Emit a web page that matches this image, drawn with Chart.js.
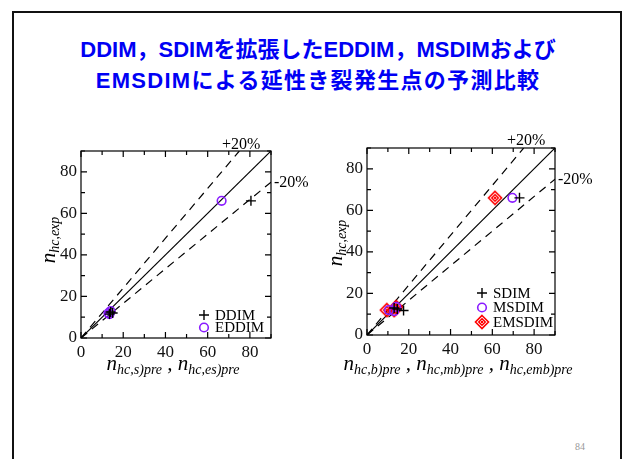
<!DOCTYPE html>
<html>
<head>
<meta charset="utf-8">
<script src="https://cdn.jsdelivr.net/npm/chart.js@4/dist/chart.umd.min.js"></script>
<style>
  html, body { margin: 0; padding: 0; background: #fff; }
  #page { position: relative; width: 622px; height: 459px; overflow: hidden; background: #fff; }
  #frame { position: absolute; left: 12px; top: 11px; width: 606px; height: 470px;
           border: 2px solid #111; border-bottom: none; }
  .title { position: absolute; left: 0; width: 636px; text-align: center; color: #0000f4;
           font-family: "Liberation Sans", "Noto Sans CJK JP", sans-serif; font-weight: bold; font-size: 22px;
           line-height: 30px; white-space: nowrap; }
  #t1 { top: 35px; }
  #t2 { top: 66px; letter-spacing: 1.3px; }
  #pageno { position: absolute; left: 575px; top: 441px; font-family: "Liberation Serif", serif;
            font-size: 10px; color: #999; }
  canvas { position: absolute; left: 0; top: 0; }
</style>
</head>
<body>
<div id="page">
  <div id="frame"></div>
  <div class="title" id="t1">DDIM，SDIMを拡張したEDDIM，MSDIMおよび</div>
  <div class="title" id="t2">EMSDIMによる延性き裂発生点の予測比較</div>
  <div id="pageno">84</div>
  <canvas id="left" width="622" height="459"></canvas>
  <canvas id="right" width="622" height="459"></canvas>
</div>
<script>
// ---- data ----
const axisMin = 0;
const axisMax = 90;
const tickStep = 10;
const labelStep = 20;

// reference lines: 1:1, +20%, -20%
const diagX = [0, 90];
const diagY = [0, 90];
const plusX = [0, 75];
const plusY = [0, 90];
const minusX = [0, 90];
const minusY = [0, 75];

// left panel
const ddimX = [80.5, 15, 14, 13.5];
const ddimY = [66, 12, 12.5, 11.5];
const eddimX = [66.6, 13, 13.5, 14];
const eddimY = [66, 12, 11.5, 13];

// right panel
const sdimX = [73, 17.5, 13, 14.5];
const sdimY = [66, 11.8, 13, 12.5];
const msdimX = [69.6, 10.5, 13, 14];
const msdimY = [66, 12, 11.5, 13.5];
const emsdimX = [61.3, 9.5, 13, 14];
const emsdimY = [66, 12, 12, 13.5];

const pts = (xs, ys) => xs.map((x, i) => ({ x: x, y: ys[i] }));

// double diamond marker
function doubleDiamond() {
  const c = document.createElement('canvas');
  c.width = 16; c.height = 16;
  const g = c.getContext('2d');
  g.strokeStyle = '#ff0000';
  g.lineWidth = 1.6;
  [6.5, 3.2].forEach(r => {
    g.beginPath();
    g.moveTo(8, 8 - r); g.lineTo(8 + r, 8); g.lineTo(8, 8 + r); g.lineTo(8 - r, 8);
    g.closePath(); g.stroke();
  });
  g.fillStyle = '#ff0000';
  g.fillRect(7, 7, 2, 2);
  return c;
}

const serif = '"Liberation Serif", "Times New Roman", serif';

function refLines() {
  const base = { type: 'line', showLine: true, pointRadius: 0, borderColor: '#000',
                 borderWidth: 1.2, fill: false, order: 10, isGuide: true };
  return [
    Object.assign({}, base, { data: pts(diagX, diagY) }),
    Object.assign({}, base, { data: pts(plusX, plusY), borderDash: [8, 6] }),
    Object.assign({}, base, { data: pts(minusX, minusY), borderDash: [8, 6] })
  ];
}

// text with subscripts: parts = [[text, isSub], ...]
function measureParts(ctx, parts, main, sub) {
  let w = 0;
  parts.forEach(p => {
    ctx.font = p[1] ? sub : main;
    w += ctx.measureText(p[0]).width;
  });
  return w;
}
function drawParts(ctx, parts, x, y, main, sub, subDrop) {
  let cx = x;
  parts.forEach(p => {
    ctx.font = p[1] ? sub : main;
    ctx.fillText(p[0], cx, y + (p[1] ? subDrop : 0));
    cx += ctx.measureText(p[0]).width;
  });
}

const mainFont = 'italic 21px ' + serif;
const subFont = 'italic 14px ' + serif;

const framePlugin = {
  id: 'frameDecor',
  beforeDatasetsDraw(chart) {
    const ctx = chart.ctx;
    const a = chart.chartArea;
    const xs = chart.scales.x, ys = chart.scales.y;
    ctx.save();
    ctx.strokeStyle = '#000';
    ctx.lineWidth = 1.2;
    ctx.strokeRect(a.left, a.top, a.right - a.left, a.bottom - a.top);
    for (let v = axisMin; v <= axisMax; v += tickStep) {
      const len = v % labelStep === 0 ? 6 : 4;
      const px = xs.getPixelForValue(v);
      const py = ys.getPixelForValue(v);
      ctx.beginPath();
      ctx.moveTo(px, a.bottom); ctx.lineTo(px, a.bottom - len);
      ctx.moveTo(px, a.top); ctx.lineTo(px, a.top + len);
      ctx.moveTo(a.left, py); ctx.lineTo(a.left + len, py);
      ctx.moveTo(a.right, py); ctx.lineTo(a.right - len, py);
      ctx.stroke();
    }
    ctx.restore();
  },
  afterDraw(chart) {
    const o = chart.options.plugins.frameDecor;
    const ctx = chart.ctx;
    const a = chart.chartArea;
    ctx.save();
    ctx.fillStyle = '#000';
    ctx.textBaseline = 'alphabetic';
    // percentage labels
    ctx.font = '16px ' + serif;
    ctx.textAlign = 'left';
    ctx.fillText('+20%', a.left + o.plusPos[0], a.top + o.plusPos[1]);
    ctx.fillText('-20%', a.left + o.minusPos[0], a.top + o.minusPos[1]);
    // x title
    const w = measureParts(ctx, o.xTitle, mainFont, subFont);
    drawParts(ctx, o.xTitle, o.xTitlePos[0] - w / 2, o.xTitlePos[1], mainFont, subFont, 4);
    // y title (rotated)
    const yt = [['n', false], ['hc,exp', true]];
    const wy = measureParts(ctx, yt, mainFont, subFont);
    ctx.save();
    ctx.translate(o.yTitlePos[0], o.yTitlePos[1]);
    ctx.rotate(-Math.PI / 2);
    drawParts(ctx, yt, -wy / 2, 0, mainFont, subFont, 4);
    ctx.restore();
    // legend
    let row = 0;
    chart.data.datasets.forEach(ds => {
      if (ds.isGuide) return;
      const y = o.legendPos[1] + row * o.legendStep;
      ctx.save();
      ctx.strokeStyle = ds.borderColor;
      ctx.fillStyle = ds.backgroundColor;
      ctx.lineWidth = ds.borderWidth;
      Chart.helpers.drawPoint(ctx, {
        pointStyle: ds.pointStyle, radius: ds.pointRadius, rotation: 0,
        borderWidth: ds.borderWidth
      }, o.legendPos[0], y);
      ctx.restore();
      ctx.fillStyle = '#000';
      ctx.font = '15px ' + serif;
      ctx.textBaseline = 'middle';
      ctx.fillText(ds.label, o.legendPos[0] + 11, y + 1);
      row++;
    });
    ctx.restore();
  }
};

function scaleOpts(axis, fixed) {
  return {
    type: 'linear', min: axisMin, max: axisMax,
    grid: { display: false, drawTicks: false },
    border: { display: false },
    ticks: {
      stepSize: tickStep, autoSkip: false, maxRotation: 0,
      padding: 4,
      color: '#111',
      font: { family: serif, size: 17 },
      callback: v => (v % labelStep === 0 ? String(v) : '')
    },
    afterFit: s => { if (axis === 'x') s.height = fixed; else s.width = fixed; }
  };
}

function makeChart(id, datasets, padding, deco) {
  return new Chart(document.getElementById(id), {
    type: 'scatter',
    data: { datasets: datasets },
    options: {
      responsive: false, animation: false, devicePixelRatio: 1,
      layout: { padding: padding },
      scales: { x: scaleOpts('x', 25), y: scaleOpts('y', 30) },
      plugins: { legend: { display: false }, tooltip: { enabled: false }, frameDecor: deco }
    },
    plugins: [framePlugin]
  });
}

const crossStyle = { pointStyle: 'cross', pointRadius: 5, borderColor: '#000', borderWidth: 1.4,
                     backgroundColor: '#000', order: 1 };
const circleStyle = { pointStyle: 'circle', pointRadius: 4.3, borderColor: '#8a1cff', borderWidth: 1.6,
                      backgroundColor: 'rgba(255,255,255,0)', order: 2 };
const diamondStyle = { pointStyle: doubleDiamond(), pointRadius: 7, borderColor: '#ff0000', borderWidth: 1.6,
                       backgroundColor: '#ff0000', order: 3 };

makeChart('left',
  refLines().concat([
    Object.assign({ label: 'DDIM', data: pts(ddimX, ddimY) }, crossStyle),
    Object.assign({ label: 'EDDIM', data: pts(eddimX, eddimY) }, circleStyle)
  ]),
  { left: 51, right: 351, top: 151, bottom: 96 },
  {
    plusPos: [141, -2], minusPos: [193, 36],
    xTitle: [['n', false], ['hc,s)pre', true], [' , ', false], ['n', false], ['hc,es)pre', true]],
    xTitlePos: [173, 370], yTitlePos: [55, 240],
    legendPos: [204, 315], legendStep: 12.5
  });

makeChart('right',
  refLines().concat([
    Object.assign({ label: 'SDIM', data: pts(sdimX, sdimY) }, crossStyle),
    Object.assign({ label: 'MSDIM', data: pts(msdimX, msdimY) }, circleStyle),
    Object.assign({ label: 'EMSDIM', data: pts(emsdimX, emsdimY) }, diamondStyle)
  ]),
  { left: 337, right: 67, top: 148, bottom: 99 },
  {
    plusPos: [140, -3], minusPos: [191, 36],
    xTitle: [['n', false], ['hc,b)pre', true], [' , ', false], ['n', false], ['hc,mb)pre', true],
             [' , ', false], ['n', false], ['hc,emb)pre', true]],
    xTitlePos: [458, 370], yTitlePos: [342, 243],
    legendPos: [482, 293], legendStep: 14.5
  });
</script>
</body>
</html>
